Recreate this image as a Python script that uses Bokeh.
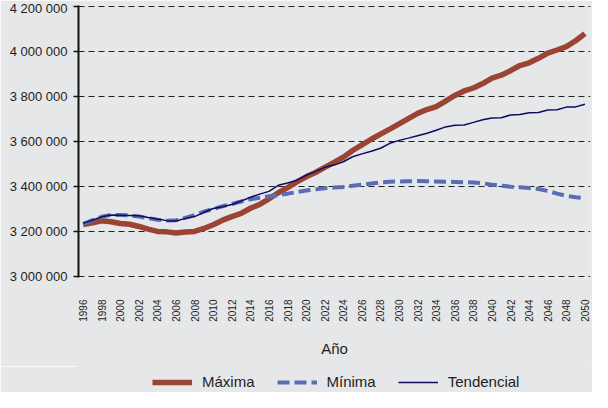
import math
from bokeh.plotting import figure
from bokeh.layouts import column
from bokeh.models import Range1d, FixedTicker, Legend, LegendItem
from bokeh.embed import file_html
from bokeh.resources import INLINE

years = list(range(1996, 2051))

maxima = [3230000, 3238000, 3247000, 3243000, 3235000, 3232000, 3222000, 3210000, 3200000, 3198000,
          3193000, 3197000, 3200000, 3213000, 3230000, 3250000, 3266000, 3280000, 3303000, 3320000,
          3345000, 3372000, 3395000, 3420000, 3443000, 3462000, 3485000, 3507000, 3530000, 3560000,
          3585000, 3610000, 3633000, 3655000, 3678000, 3702000, 3725000, 3742000, 3755000, 3780000,
          3805000, 3825000, 3838000, 3858000, 3882000, 3895000, 3915000, 3938000, 3950000, 3970000,
          3993000, 4007000, 4022000, 4048000, 4080000]

minima = [3233000, 3250000, 3265000, 3274000, 3273000, 3271000, 3266000, 3259000, 3252000, 3248000,
          3250000, 3260000, 3273000, 3288000, 3300000, 3312000, 3322000, 3333000, 3343000, 3350000,
          3356000, 3362000, 3368000, 3375000, 3382000, 3387000, 3392000, 3395000, 3398000, 3403000,
          3408000, 3413000, 3418000, 3421000, 3422000, 3423000, 3424000, 3423000, 3422000, 3421000,
          3420000, 3419000, 3418000, 3414000, 3408000, 3403000, 3399000, 3396000, 3393000, 3389000,
          3380000, 3368000, 3358000, 3352000, 3348000]

tendencial = [3237000, 3250000, 3265000, 3273000, 3272000, 3271000, 3270000, 3262000, 3255000, 3248000,
              3246000, 3258000, 3266000, 3285000, 3302000, 3310000, 3320000, 3335000, 3352000, 3366000,
              3378000, 3405000, 3415000, 3428000, 3450000, 3466000, 3485000, 3495000, 3510000, 3532000,
              3545000, 3557000, 3570000, 3592000, 3605000, 3615000, 3626000, 3637000, 3650000, 3665000,
              3672000, 3673000, 3685000, 3697000, 3705000, 3706000, 3718000, 3720000, 3728000, 3729000,
              3740000, 3741000, 3753000, 3754000, 3766000]

y_ticks = [3000000, 3200000, 3400000, 3600000, 3800000, 4000000, 4200000]
y_tick_labels = ["3 000 000", "3 200 000", "3 400 000", "3 600 000", "3 800 000", "4 000 000", "4 200 000"]
x_ticks = list(range(1996, 2051, 2))

series_names = ["Máxima", "Mínima", "Tendencial"]
series_colors = ["#9b4434", "#5a6db4", "#0c0c5e"]

BG = "#e6e7e9"
FONT = "Liberation Sans"
TXT = "#1e1e1e"

p = figure(width=592, height=366, output_backend="svg", toolbar_location=None,
           x_range=Range1d(1995.5, 2050.6), y_range=Range1d(2995000, 4205000),
           min_border_left=78, min_border_right=2, min_border_top=5, min_border_bottom=89,
           background_fill_color=BG, border_fill_color=BG, outline_line_color=None)

# x axis
p.xaxis.ticker = FixedTicker(ticks=x_ticks)
p.xaxis.major_label_orientation = math.pi / 2
p.xaxis.axis_line_color = None
p.xaxis.major_tick_line_color = None
p.xaxis.minor_tick_line_color = None
p.xaxis.major_label_standoff = 16
p.xaxis.major_label_text_font = FONT
p.xaxis.major_label_text_font_size = "10px"
p.xaxis.major_label_text_color = TXT
p.xaxis.axis_label = "Año"
p.xaxis.axis_label_text_font = FONT
p.xaxis.axis_label_text_font_size = "15px"
p.xaxis.axis_label_text_font_style = "normal"
p.xaxis.axis_label_text_color = TXT
p.xaxis.axis_label_standoff = 15

# y axis
p.yaxis.ticker = FixedTicker(ticks=y_ticks)
p.yaxis.major_label_overrides = {t: l for t, l in zip(y_ticks, y_tick_labels)}
p.yaxis.axis_line_width = 2
p.yaxis.axis_line_color = "#111111"
p.yaxis.major_tick_out = 5
p.yaxis.major_tick_in = 0
p.yaxis.major_tick_line_width = 1.5
p.yaxis.major_tick_line_color = "#111111"
p.yaxis.minor_tick_line_color = None
p.yaxis.major_label_standoff = 6
p.yaxis.major_label_text_font = FONT
p.yaxis.major_label_text_font_size = "13px"
p.yaxis.major_label_text_color = TXT

# grid
p.xgrid.grid_line_color = None
p.ygrid.grid_line_color = "#222222"
p.ygrid.grid_line_dash = "6 4"
p.ygrid.grid_line_width = 1.2

p.line(years, maxima, line_color=series_colors[0], line_width=5.5)
p.line(years, minima, line_color=series_colors[1], line_width=4, line_dash="12 5")
p.line(years, tendencial, line_color=series_colors[2], line_width=1.5)

# legend strip below the chart: same series, drawn out of view, only the legend shows
lg = figure(width=592, height=26, output_backend="svg", toolbar_location=None,
            x_range=Range1d(0, 1), y_range=Range1d(0, 1),
            x_axis_type=None, y_axis_type=None,
            min_border_left=78, min_border_right=2, min_border_top=0, min_border_bottom=0,
            background_fill_color=BG, border_fill_color=BG,
            outline_line_color=BG, outline_line_width=2)
lg.xgrid.grid_line_color = None
lg.ygrid.grid_line_color = None
k_max = lg.line(years, maxima, line_color=series_colors[0], line_width=5.5)
k_min = lg.line(years, minima, line_color=series_colors[1], line_width=4, line_dash="12 5")
k_ten = lg.line(years, tendencial, line_color=series_colors[2], line_width=1.5)

legend = Legend(items=[LegendItem(label=series_names[0], renderers=[k_max]),
                       LegendItem(label=series_names[1], renderers=[k_min]),
                       LegendItem(label=series_names[2], renderers=[k_ten])],
                orientation="horizontal", location=(72, 0),
                background_fill_alpha=0, border_line_alpha=0,
                label_text_font=FONT, label_text_font_size="15px", label_text_color=TXT,
                glyph_width=40, glyph_height=16, label_standoff=10, spacing=22,
                padding=2, margin=0)
lg.add_layout(legend, "center")

layout = column(p, lg, spacing=0)
open("out.html", "w").write(file_html(layout, INLINE))
